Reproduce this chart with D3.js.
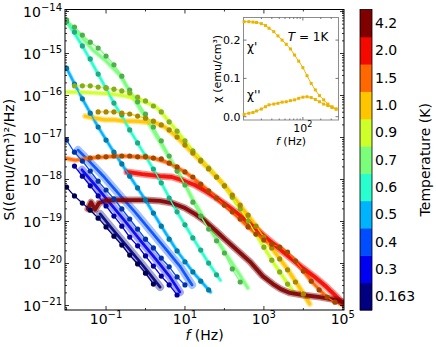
<!DOCTYPE html>
<html><head><meta charset="utf-8">
<script src="https://cdn.jsdelivr.net/npm/d3@7"></script>
<style>body{margin:0;background:#fff}svg{display:block}text{font-family:"DejaVu Sans",sans-serif;fill:#000}</style>
</head><body><svg id="c" width="436" height="347"></svg>
<script>
// ---------------- DATA ([log10 f/Hz, log10 S]) ----------------
const temps = ["0.163","0.3","0.4","0.5","0.6","0.7","0.9","1.0","1.5","2.0","4.2"];

// averaged (large) points
const d163 = [[-2.0,-18.18],[-1.8,-18.39],[-1.6,-18.56],[-1.4,-18.73],[-1.2,-18.92],[-1.0,-19.13],[-0.8,-19.35],[-0.6,-19.56],[-0.4,-19.80],[-0.2,-20.01],[0.0,-20.23],[0.2,-20.49]];
const d030 = [[-1.8,-17.68],[-1.6,-17.92],[-1.4,-18.15],[-1.2,-18.39],[-1.0,-18.63],[-0.8,-18.87],[-0.6,-19.11],[-0.4,-19.37],[-0.2,-19.58],[0.0,-19.82],[0.2,-20.06],[0.4,-20.30],[0.6,-20.51],[0.8,-20.75]];
const d040 = [[-2.0,-17.06],[-1.8,-17.35],[-1.6,-17.56],[-1.4,-17.80],[-1.2,-18.04],[-1.0,-18.25],[-0.8,-18.46],[-0.6,-18.70],[-0.4,-18.94],[-0.2,-19.18],[0.0,-19.42],[0.2,-19.63],[0.4,-19.87],[0.6,-20.08],[0.8,-20.32],[1.0,-20.51]];
const d050 = [[-2.0,-15.35],[-1.8,-15.73],[-1.6,-16.08],[-1.4,-16.42],[-1.2,-16.75],[-1.0,-17.06],[-0.8,-17.35],[-0.6,-17.63],[-0.4,-17.92],[-0.2,-18.20],[0.0,-18.49],[0.2,-18.80],[0.4,-19.11],[0.6,-19.42],[0.8,-19.70],[1.0,-19.96],[1.2,-20.20],[1.4,-20.42],[1.6,-20.63]];
const d060 = [[-2.0,-14.23],[-1.8,-14.49],[-1.6,-14.82],[-1.4,-15.13],[-1.2,-15.49],[-1.0,-15.82],[-0.8,-16.18],[-0.6,-16.46],[-0.4,-16.82],[-0.2,-17.13],[0.0,-17.44],[0.2,-17.75],[0.4,-18.08],[0.6,-18.44],[0.8,-18.77],[1.0,-19.08],[1.2,-19.39],[1.4,-19.68],[1.6,-19.99],[1.8,-20.27]];
const d070 = [[-2.0,-14.20],[-1.8,-14.37],[-1.6,-14.56],[-1.4,-14.73],[-1.2,-14.87],[-1.0,-15.06],[-0.8,-15.27],[-0.6,-15.54],[-0.4,-15.87],[-0.2,-16.15],[0.0,-16.44],[0.2,-16.75],[0.4,-17.08],[0.6,-17.44],[0.8,-17.80],[1.0,-18.13],[1.2,-18.54],[1.4,-18.87],[1.6,-19.18],[1.8,-19.46],[2.0,-19.75],[2.2,-20.13],[2.4,-20.44]];
const d090 = [[-1.8,-15.77],[-1.6,-15.77],[-1.4,-15.77],[-1.2,-15.80],[-1.0,-15.82],[-0.8,-15.85],[-0.6,-15.89],[-0.4,-15.94],[-0.2,-16.04],[0.0,-16.13],[0.2,-16.25],[0.4,-16.39],[0.6,-16.63],[0.8,-16.85],[1.0,-17.08],[1.2,-17.32],[1.4,-17.54],[1.6,-17.73],[1.8,-17.94],[2.0,-18.15],[2.2,-18.42],[2.4,-18.70],[2.6,-18.99],[2.8,-19.30],[3.0,-19.61],[3.2,-19.92],[3.4,-20.20],[3.6,-20.49]];
const d100 = [[-1.2,-16.39],[-1.0,-16.39],[-0.8,-16.39],[-0.6,-16.42],[-0.4,-16.44],[-0.2,-16.49],[0.0,-16.54],[0.2,-16.61],[0.4,-16.70],[0.6,-16.82],[0.8,-16.99],[1.0,-17.18],[1.2,-17.37],[1.4,-17.56],[1.6,-17.75],[1.8,-17.94],[2.0,-18.15],[2.2,-18.37],[2.4,-18.61],[2.6,-18.85],[2.8,-19.11],[3.0,-19.37],[3.2,-19.63],[3.4,-19.89],[3.6,-20.15],[3.8,-20.44],[4.0,-20.73]];
const d150 = [[-1.4,-17.49],[-1.2,-17.46],[-1.0,-17.46],[-0.8,-17.44],[-0.6,-17.44],[-0.4,-17.44],[-0.2,-17.46],[0.0,-17.46],[0.2,-17.49],[0.4,-17.51],[0.6,-17.61],[0.8,-17.70],[1.0,-17.82],[1.2,-17.94],[1.4,-18.11],[1.6,-18.27],[1.8,-18.44],[2.0,-18.61],[2.2,-18.77],[2.4,-18.94],[2.6,-19.13],[2.8,-19.30],[3.0,-19.44],[3.2,-19.54],[3.4,-19.61],[3.6,-19.73],[3.8,-19.94],[4.0,-20.18],[4.2,-20.42],[4.4,-20.63],[4.6,-20.80],[4.8,-20.92]];

// raw (noisy) spectra, traced as bands
const r163 = [[-1.15,-18.82],[-0.90,-19.11],[-0.65,-19.39],[-0.39,-19.68],[-0.14,-19.96],[0.11,-20.25],[0.37,-20.56]];
const r030 = [[-1.61,-17.77],[-1.28,-18.13],[-0.90,-18.56],[-0.52,-18.99],[-0.14,-19.44],[0.24,-19.87],[0.62,-20.32],[0.87,-20.68]];
const r040 = [[-1.71,-17.30],[-1.41,-17.58],[-1.03,-17.96],[-0.65,-18.37],[-0.27,-18.77],[0.11,-19.20],[0.49,-19.63],[0.87,-20.06],[1.18,-20.51]];
const r050 = [[-2.0,-15.35],[-1.6,-16.08],[-1.2,-16.75],[-0.8,-17.35],[-0.4,-17.92],[0.0,-18.49],[0.4,-19.11],[0.8,-19.70],[1.2,-20.20],[1.65,-20.68]];
const r060 = [[-2.0,-14.23],[-1.6,-14.82],[-1.2,-15.49],[-0.8,-16.18],[-0.4,-16.82],[0.0,-17.44],[0.4,-18.08],[0.8,-18.77],[1.2,-19.39],[1.6,-19.99],[1.9,-20.40]];
const r070 = [[-1.96,-14.30],[-1.66,-14.56],[-1.33,-14.92],[-1.03,-15.15],[-0.65,-15.51],[-0.27,-16.11],[0.11,-16.70],[0.49,-17.30],[0.87,-17.89],[1.25,-18.56],[1.63,-19.15],[2.01,-19.73],[2.34,-20.20],[2.59,-20.58]];
const r090 = [[-2.01,-15.92],[-1.66,-15.92],[-1.28,-15.94],[-0.90,-15.96],[-0.52,-16.01],[-0.14,-16.11],[0.24,-16.25],[0.39,-16.39],[0.80,-16.85],[1.20,-17.32],[1.61,-17.73],[2.01,-18.15],[2.39,-18.70],[2.80,-19.30],[3.20,-19.92],[3.61,-20.49],[3.78,-20.70]];
const r100 = [[-1.53,-16.49],[-1.28,-16.54],[-1.03,-16.58],[-0.77,-16.58],[-0.52,-16.61],[-0.27,-16.61],[-0.01,-16.63],[0.24,-16.65],[0.49,-16.75],[0.80,-16.99],[1.20,-17.37],[1.61,-17.75],[2.01,-18.15],[2.39,-18.61],[2.80,-19.11],[3.20,-19.63],[3.61,-20.15],[4.01,-20.73],[4.16,-20.96]];
const r150 = [[-2.04,-17.49],[-1.78,-17.54],[-1.4,-17.49],[-1.0,-17.46],[-0.6,-17.44],[-0.2,-17.46],[0.2,-17.49],[0.6,-17.61],[1.0,-17.82],[1.4,-18.11],[1.8,-18.44],[2.2,-18.77],[2.6,-19.13],[3.0,-19.44],[3.4,-19.61],[3.8,-19.94],[4.2,-20.42],[4.6,-20.80],[5.0,-20.99]];
const r200 = [[-0.47,-17.82],[-0.09,-17.87],[0.37,-17.92],[0.67,-17.94],[1.00,-18.04],[1.25,-18.13],[1.51,-18.27],[1.76,-18.42],[2.01,-18.58],[2.32,-18.80],[2.65,-19.06],[2.95,-19.30],[3.28,-19.56],[3.61,-19.82],[3.99,-20.11],[4.29,-20.32],[4.59,-20.56],[4.82,-20.77],[5.00,-20.94]];
const r420 = [[-1.46,-18.70],[-1.38,-18.54],[-1.28,-18.72],[-1.18,-18.56],[-1.03,-18.51],[-0.85,-18.49],[-0.52,-18.49],[-0.01,-18.49],[0.37,-18.51],[0.67,-18.56],[1.00,-18.68],[1.25,-18.82],[1.51,-18.99],[1.76,-19.20],[2.01,-19.42],[2.32,-19.68],[2.65,-19.96],[2.97,-20.30],[3.23,-20.49],[3.43,-20.61],[3.66,-20.70],[3.99,-20.75],[4.42,-20.80],[4.85,-20.87],[5.00,-20.92]];

const dotSets = [d163,d030,d040,d050,d060,d070,d090,d100,d150,null,null];
const rawSets = [r163,r030,r040,r050,r060,r070,r090,r100,r150,r200,r420];

// inset: chi' and chi'' at T = 1 K, [log10 f/Hz, chi (emu/cm^3)]
const insetLogF = [1.01,1.09,1.16,1.22,1.30,1.37,1.43,1.51,1.58,1.65,1.72,1.79,1.86,1.93,2.00,2.07,2.14,2.21,2.28,2.35,2.42,2.49,2.56];
const chiRe = [0.248,0.248,0.247,0.246,0.243,0.238,0.231,0.222,0.211,0.200,0.189,0.177,0.161,0.145,0.128,0.107,0.087,0.070,0.055,0.044,0.033,0.026,0.020];
const chiIm = [0.006,0.009,0.011,0.015,0.020,0.026,0.031,0.033,0.035,0.038,0.039,0.042,0.044,0.048,0.051,0.052,0.050,0.045,0.039,0.033,0.029,0.024,0.020];

const yTickExp = [-14,-15,-16,-17,-18,-19,-20,-21];
const xTickExp = [-1,1,3,5];
const xMinorExp = [-2,0,2,4];
const insetYTicks = [0.0,0.1,0.2];

// ---------------- DRAWING ----------------
const jet = ["#000080","#0000f3","#004cff","#00b3ff","#29ffce","#7bff7b","#ceff29","#ffc600","#ff6800","#f30900","#800000"];
const bandW = [8,8,8,4,4,5,5,6,5,7,7];
const svg = d3.select("#c");
const L=65,R=344,T=9.5,B=310;
const x = d3.scaleLog().domain([10**-2.04,10**5.03]).range([L,R]);
const y = d3.scaleLog().domain([10**-21.107,10**-13.952]).range([B,T]);
const line = d3.line().x(d=>x(10**d[0])).y(d=>y(10**d[1]));
const sline = d3.line().x(d=>x(10**d[0])).y(d=>y(10**d[1])).curve(d3.curveMonotoneX);

svg.append("defs").append("clipPath").attr("id","pc").append("rect").attr("x",L).attr("y",T).attr("width",R-L).attr("height",B-T);
const g = svg.append("g").attr("clip-path","url(#pc)");

// raw bands: soft wide halo + denser core
rawSets.forEach((r,i)=>{
  g.append("path").attr("d",line(r)).attr("fill","none").attr("stroke",jet[i])
   .attr("stroke-width",bandW[i]).attr("stroke-linejoin","round").attr("stroke-linecap","round").attr("opacity",i<3?0.35:0.45);
  g.append("path").attr("d",line(r)).attr("fill","none").attr("stroke",jet[i])
   .attr("stroke-width",bandW[i]*(i<3?0.35:0.55)).attr("stroke-linejoin","round").attr("stroke-linecap","round").attr("opacity",0.9);
});
// fit lines and averaged dots
dotSets.forEach((d,i)=>{
  if(!d) return;
  g.append("path").attr("d",sline(d)).attr("fill","none").attr("stroke",jet[i]).attr("stroke-width",1.3);
});
dotSets.forEach((d,i)=>{
  if(!d) return;
  const c = d3.rgb(jet[i]); const dc = d3.rgb(c.r*0.65,c.g*0.68,c.b*0.65);
  g.selectAll(null).data(d).enter().append("circle")
   .attr("cx",p=>x(10**p[0])).attr("cy",p=>y(10**p[1])).attr("r",2.6).attr("fill",dc);
});

// frame
svg.append("rect").attr("x",L).attr("y",T).attr("width",R-L).attr("height",B-T).attr("fill","none").attr("stroke","#000").attr("stroke-width",1);

// ticks
const ax = svg.append("g").attr("stroke","#000").attr("stroke-width",0.8);
yTickExp.forEach(e=>{
  const yy=y(10**e);
  ax.append("line").attr("x1",L).attr("x2",L+4).attr("y1",yy).attr("y2",yy);
  ax.append("line").attr("x1",R).attr("x2",R-4).attr("y1",yy).attr("y2",yy);
  for(let k=2;k<=9;k++){
    const v=k*10**(e-1); if(v<y.domain()[0]) continue;
    const ym=y(v);
    ax.append("line").attr("x1",L).attr("x2",L+2).attr("y1",ym).attr("y2",ym);
    ax.append("line").attr("x1",R).attr("x2",R-2).attr("y1",ym).attr("y2",ym);
  }
  const t=svg.append("text").attr("x",L-3).attr("y",yy+5).attr("text-anchor","end").attr("font-size",14);
  t.append("tspan").text("10");
  t.append("tspan").attr("dy",-6).attr("font-size",10).text("\u2212"+Math.abs(e));
});
xTickExp.forEach(e=>{
  const xx=x(10**e);
  ax.append("line").attr("x1",xx).attr("x2",xx).attr("y1",B).attr("y2",B-4);
  ax.append("line").attr("x1",xx).attr("x2",xx).attr("y1",T).attr("y2",T+4);
  const t=svg.append("text").attr("x",xx).attr("y",B+14).attr("text-anchor","middle").attr("font-size",14);
  t.append("tspan").text("10");
  t.append("tspan").attr("dy",-6).attr("font-size",10).text(e<0?"\u2212"+Math.abs(e):String(e));
});
xMinorExp.forEach(e=>{
  const xx=x(10**e);
  ax.append("line").attr("x1",xx).attr("x2",xx).attr("y1",B).attr("y2",B-2);
  ax.append("line").attr("x1",xx).attr("x2",xx).attr("y1",T).attr("y2",T+2);
});

// axis labels
const xl=svg.append("text").attr("x",(L+R)/2).attr("y",340).attr("text-anchor","middle").attr("font-size",14);
xl.append("tspan").attr("font-style","italic").text("f");
xl.append("tspan").text(" (Hz)");
svg.append("text").attr("transform",`translate(14,${(T+B)/2}) rotate(-90)`).attr("text-anchor","middle").attr("font-size",14).text("S((emu/cm\u00b3)\u00b2/Hz)");

// colorbar
const cbx=360,cbw=12,nh=(B-T)/temps.length;
temps.forEach((t,i)=>{
  const y0=B-(i+1)*nh;
  svg.append("rect").attr("x",cbx).attr("y",y0).attr("width",cbw).attr("height",nh+0.5).attr("fill",jet[i]);
  svg.append("text").attr("x",cbx+cbw+3).attr("y",y0+nh/2+5).attr("font-size",14).text(t);
});
svg.append("rect").attr("x",cbx).attr("y",T).attr("width",cbw).attr("height",B-T).attr("fill","none").attr("stroke","#000").attr("stroke-width",0.8);
svg.append("text").attr("transform",`translate(430,${(T+B)/2}) rotate(-90)`).attr("text-anchor","middle").attr("font-size",14).text("Temperature (K)");

// inset
const IL=243.5,IR=338.5,IT=17.5,IB=120;
const ix=d3.scaleLog().domain([10**1.0,10**2.6]).range([IL,IR]);
const iy=d3.scaleLinear().domain([-0.0086,0.259]).range([IB,IT]);
svg.append("rect").attr("x",IL).attr("y",IT).attr("width",IR-IL).attr("height",IB-IT).attr("fill","#fff").attr("stroke","#8c8c8c").attr("stroke-width",1);
const ic="#ebb400";
[chiRe,chiIm].forEach(arr=>{
  const pts=insetLogF.map((f,i)=>[ix(10**f),iy(arr[i])]);
  svg.append("path").attr("d",d3.line().curve(d3.curveMonotoneX)(pts)).attr("fill","none").attr("stroke",ic).attr("stroke-width",1);
  svg.selectAll(null).data(pts).enter().append("rect").attr("x",p=>p[0]-1.5).attr("y",p=>p[1]-1.5).attr("width",3).attr("height",3).attr("fill",ic);
});
const ia=svg.append("g").attr("stroke","#555").attr("stroke-width",0.8);
insetYTicks.forEach(v=>{
  const yy=iy(v);
  ia.append("line").attr("x1",IL).attr("x2",IL+3).attr("y1",yy).attr("y2",yy);
  ia.append("line").attr("x1",IR).attr("x2",IR-3).attr("y1",yy).attr("y2",yy);
  svg.append("text").attr("x",IL-3).attr("y",yy+4).attr("text-anchor","end").attr("font-size",11).text(v.toFixed(1));
});
{
  const xx=ix(100);
  ia.append("line").attr("x1",xx).attr("x2",xx).attr("y1",IB).attr("y2",IB-3);
  ia.append("line").attr("x1",xx).attr("x2",xx).attr("y1",IT).attr("y2",IT+3);
  const t=svg.append("text").attr("x",xx).attr("y",IB+12).attr("text-anchor","middle").attr("font-size",11);
  t.append("tspan").text("10"); t.append("tspan").attr("dy",-5).attr("font-size",8).text("2");
  [20,30,40,50,60,70,80,90,200,300].forEach(v=>{
    const xm=ix(v);
    ia.append("line").attr("x1",xm).attr("x2",xm).attr("y1",IB).attr("y2",IB-1.5);
    ia.append("line").attr("x1",xm).attr("x2",xm).attr("y1",IT).attr("y2",IT+1.5);
  });
}
const il=svg.append("text").attr("x",(IL+IR)/2).attr("y",145).attr("text-anchor","middle").attr("font-size",11);
il.append("tspan").attr("font-style","italic").text("f"); il.append("tspan").text(" (Hz)");
svg.append("text").attr("transform",`translate(221,${(IT+IB)/2}) rotate(-90)`).attr("text-anchor","middle").attr("font-size",11).text("\u03c7 (emu/cm\u00b3)");
svg.append("text").attr("x",247).attr("y",51).attr("font-size",12).text("\u03c7'");
svg.append("text").attr("x",247).attr("y",99).attr("font-size",12).text("\u03c7''");
const tt=svg.append("text").attr("x",308).attr("y",41).attr("text-anchor","middle").attr("font-size",12);
tt.append("tspan").attr("font-style","italic").text("T"); tt.append("tspan").text(" = 1K");
</script></body></html>
